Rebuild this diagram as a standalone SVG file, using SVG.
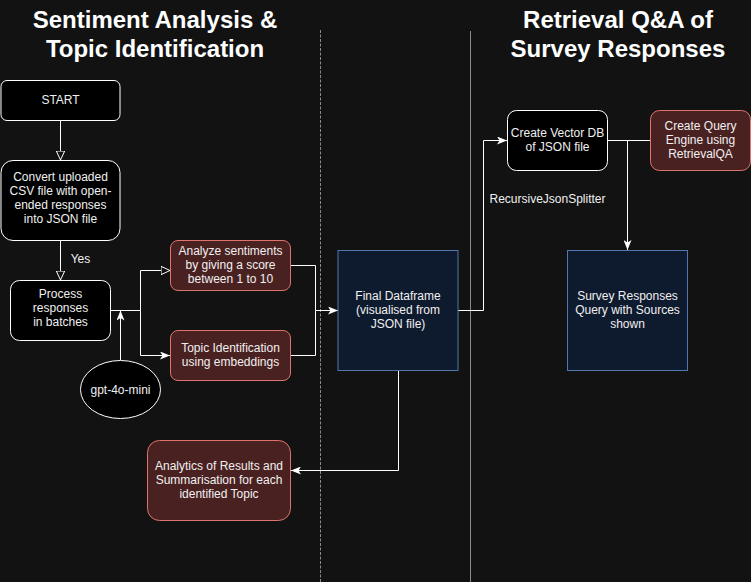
<svg xmlns="http://www.w3.org/2000/svg" width="751" height="582" viewBox="0 0 751 582">
<defs>
<style>
text{font-family:"Liberation Sans",Arial,sans-serif;fill:#f0f0f0;font-size:12px;text-anchor:middle}
.title{font-size:24px;font-weight:bold;fill:#ffffff}
.plain{fill:#000000;stroke:#ffffff;stroke-width:1}
.red{fill:#4a2121;stroke:#de746e;stroke-width:1}
.blue{fill:#0e1a2d;stroke:#5177ac;stroke-width:1}
.edge{fill:none;stroke:#ffffff;stroke-width:1}
.sep{stroke:#8a8a8a;stroke-width:1}
</style>
<marker id="open" viewBox="0 0 10 10" refX="9.5" refY="5" markerWidth="10" markerHeight="10" markerUnits="userSpaceOnUse" orient="auto">
<path d="M0.5,0.8 L9.5,5 L0.5,9.2 Z" fill="#121212" stroke="#ffffff" stroke-width="1"/>
</marker>
<marker id="arrow" viewBox="0 0 10 8" refX="10" refY="4" markerWidth="10" markerHeight="8" markerUnits="userSpaceOnUse" orient="auto">
<path d="M0,0 L10,4 L0,8 L2.5,4 Z" fill="#ffffff"/>
</marker>
</defs>
<rect width="751" height="582" fill="#121212"/>

<g id="separators">
<line class="sep" x1="320.5" y1="30" x2="320.5" y2="582" stroke-dasharray="3 1.5"/>
<line class="sep" x1="470.5" y1="31" x2="470.5" y2="582"/>
</g>

<g id="titles">
<text class="title" x="155" y="28">Sentiment Analysis &amp;</text>
<text class="title" x="155" y="57">Topic Identification</text>
<text class="title" x="618" y="28">Retrieval Q&amp;A of</text>
<text class="title" x="618" y="57">Survey Responses</text>
</g>

<g id="connectors">
<path class="edge" d="M60.5,120.5 V160" marker-end="url(#open)"/>
<path class="edge" d="M60.5,240.5 V280" marker-end="url(#open)"/>
<path class="edge" d="M110,310.5 H140.5 V270.5 H170" marker-end="url(#open)"/>
<path class="edge" d="M110,310.5 H140.5 V355.5 H170" marker-end="url(#arrow)"/>
<path class="edge" d="M120.5,360 V310.5" marker-end="url(#arrow)"/>
<path class="edge" d="M290,265.5 H315.5 V310.5 H338" marker-end="url(#arrow)"/>
<path class="edge" d="M290,355.5 H315.5 V310.5"/>
<path class="edge" d="M458,310.5 H483.5 V140.5 H507" marker-end="url(#arrow)"/>
<path class="edge" d="M607,140.5 H650"/>
<path class="edge" d="M627.5,140.5 V250" marker-end="url(#arrow)"/>
<path class="edge" d="M398.5,370 V470.5 H291" marker-end="url(#arrow)"/>
<text x="80.5" y="263">Yes</text>
<text x="547.5" y="203">RecursiveJsonSplitter</text>
</g>

<g id="start">
<rect class="plain" x="1" y="80.5" width="119" height="40" rx="6"/>
<text x="60.5" y="103.5">START</text>
</g>

<g id="convert">
<rect class="plain" x="1" y="160.5" width="119" height="80" rx="12"/>
<text x="60.5" y="181">Convert uploaded</text>
<text x="60.5" y="195">CSV file with open-</text>
<text x="60.5" y="209">ended responses</text>
<text x="60.5" y="223">into JSON file</text>
</g>

<g id="process">
<rect class="plain" x="10.5" y="280.5" width="100" height="60" rx="9"/>
<text x="60.5" y="297.5">Process</text>
<text x="60.5" y="311.5">responses</text>
<text x="60.5" y="325.5">in batches</text>
</g>

<g id="gpt">
<ellipse class="plain" cx="120.5" cy="389.5" rx="40" ry="29"/>
<text x="120.5" y="394">gpt-4o-mini</text>
</g>

<g id="sentiment">
<rect class="red" x="170.5" y="240.5" width="120" height="50" rx="7.5"/>
<text x="230.5" y="255">Analyze sentiments</text>
<text x="230.5" y="269">by giving a score</text>
<text x="230.5" y="283">between 1 to 10</text>
</g>

<g id="topic">
<rect class="red" x="170.5" y="330.5" width="120" height="50" rx="7.5"/>
<text x="230.5" y="351.5">Topic Identification</text>
<text x="230.5" y="365.5">using embeddings</text>
</g>

<g id="final">
<rect class="blue" x="338" y="250.5" width="120" height="120"/>
<text x="398" y="299.5">Final Dataframe</text>
<text x="398" y="313.5">(visualised from</text>
<text x="398" y="327.5">JSON file)</text>
</g>

<g id="analytics">
<rect class="red" x="147.5" y="440.5" width="143" height="80" rx="12"/>
<text x="219" y="470">Analytics of Results and</text>
<text x="219" y="484">Summarisation for each</text>
<text x="219" y="498">identified Topic</text>
</g>

<g id="vectordb">
<rect class="plain" x="507.5" y="110.5" width="100" height="60" rx="9"/>
<text x="557.5" y="136.5">Create Vector DB</text>
<text x="557.5" y="150.5">of JSON file</text>
</g>

<g id="queryengine">
<rect class="red" x="650.5" y="110.5" width="100" height="60" rx="9"/>
<text x="700.5" y="130">Create Query</text>
<text x="700.5" y="144">Engine using</text>
<text x="700.5" y="158">RetrievalQA</text>
</g>

<g id="survey">
<rect class="blue" x="567.5" y="250.5" width="120" height="120"/>
<text x="627.5" y="299.5">Survey Responses</text>
<text x="627.5" y="313.5">Query with Sources</text>
<text x="627.5" y="327.5">shown</text>
</g>
</svg>
